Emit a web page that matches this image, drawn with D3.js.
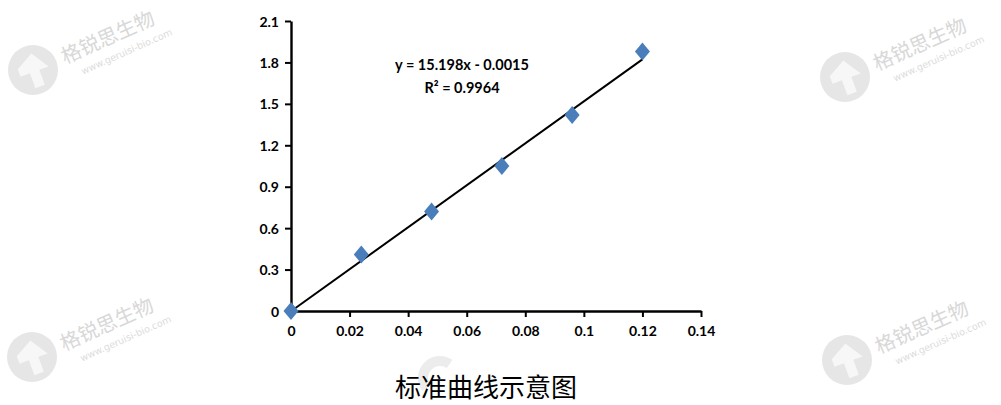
<!DOCTYPE html>
<html>
<head>
<meta charset="utf-8">
<script src="https://cdn.jsdelivr.net/npm/d3@7"></script>
<style>
  html, body { margin: 0; padding: 0; background: #fff; }
  svg { display: block; }
</style>
</head>
<body>
<svg id="chart" width="1001" height="405"></svg>
<script>
// data
const concentrations = [0, 0.024, 0.048, 0.072, 0.096, 0.12];
const absorbances    = [0, 0.41, 0.72, 1.05, 1.42, 1.88];
const slope = 15.198;
const intercept = -0.0015;
const xTicks = [0, 0.02, 0.04, 0.06, 0.08, 0.1, 0.12, 0.14];
const yTicks = [0, 0.3, 0.6, 0.9, 1.2, 1.5, 1.8, 2.1];
const equationLines = ["y = 15.198x - 0.0015", "R² = 0.9964"];
const title = "标准曲线示意图";
const watermarkText = "格锐思生物";
const watermarkUrl = "www.geruisi-bio.com";
const watermarkSpots = [[33, 70], [845, 77], [32, 357], [847, 360]];

const svg = d3.select("#chart");
const tickFont = "Lato, 'Open Sans', sans-serif";

// ===== WATERMARKS =====
const wm = svg.append("g").attr("class", "watermarks");
for (const [cx, cy] of watermarkSpots) {
  const g = wm.append("g").attr("transform", `translate(${cx},${cy})`);
  g.append("circle").attr("r", 25).attr("fill", "#e6e6e6");
  g.append("path")
    .attr("d", "M-14,-6 L4,-16 L16,2 L6,2 L6,18 L-4,18 L-4,2 L-14,2 Z")
    .attr("fill", "#f7f7f7")
    .attr("transform", "rotate(-20)");
  const t = g.append("g").attr("transform", "translate(32,-6) rotate(-24)");
  t.append("text")
    .attr("x", 0).attr("y", 0)
    .attr("font-family", "'Noto Sans CJK SC', sans-serif")
    .attr("font-size", 20)
    .attr("fill", "#d8d8d8")
    .text(watermarkText);
  t.append("text")
    .attr("x", 12).attr("y", 17)
    .attr("font-family", "'DejaVu Sans', sans-serif")
    .attr("font-size", 9.5)
    .attr("fill", "#dcdcdc")
    .text(watermarkUrl);
}
// faint logo fragment behind the title
svg.append("path")
  .attr("d", d3.arc()({ innerRadius: 12, outerRadius: 22, startAngle: -2.2, endAngle: 0.6 }))
  .attr("transform", "translate(440,378)")
  .attr("fill", "#ececec");

// ===== SCALES =====
const x = d3.scaleLinear().domain([0, 0.14]).range([291, 701]);
const y = d3.scaleLinear().domain([0, 2.1]).range([311, 21]);

// ===== AXES =====
const gx = svg.append("g")
  .attr("transform", `translate(0,${y(0)})`)
  .call(d3.axisBottom(x).tickValues(xTicks).tickSize(6).tickSizeOuter(0).tickPadding(9)
    .tickFormat(d => String(d)));

const gy = svg.append("g")
  .attr("transform", `translate(${x(0)},0)`)
  .call(d3.axisLeft(y).tickValues(yTicks).tickSize(6).tickSizeOuter(0).tickPadding(6)
    .tickFormat(d => String(d)));

for (const g of [gx, gy]) {
  g.select(".domain").attr("stroke", "#000").attr("stroke-width", 2.4);
  g.selectAll(".tick line").attr("stroke", "#000").attr("stroke-width", 2);
  g.selectAll(".tick text")
    .attr("fill", "#000")
    .attr("font-family", tickFont)
    .attr("font-weight", "bold")
    .attr("font-size", 14);
}
gy.selectAll(".tick text").attr("dy", "0.36em");

// ===== TRENDLINE =====
const xEnd = d3.max(concentrations);
svg.append("line")
  .attr("x1", x(0)).attr("y1", y(slope * 0 + intercept))
  .attr("x2", x(xEnd)).attr("y2", y(slope * xEnd + intercept))
  .attr("stroke", "#000")
  .attr("stroke-width", 2);

// ===== POINTS =====
function diamond(w, h) {
  const p = d3.path();
  p.moveTo(0, -h / 2);
  p.lineTo(w / 2, 0);
  p.lineTo(0, h / 2);
  p.lineTo(-w / 2, 0);
  p.closePath();
  return p.toString();
}
svg.append("g")
  .selectAll("path")
  .data(concentrations.map((c, i) => ({ c, a: absorbances[i] })))
  .enter()
  .append("path")
  .attr("d", diamond(15, 18))
  .attr("transform", d => `translate(${x(d.c)},${y(d.a)})`)
  .attr("fill", "#4a7ebb");

// ===== EQUATION =====
svg.append("text")
  .attr("x", 462).attr("y", 70)
  .attr("text-anchor", "middle")
  .attr("font-family", tickFont)
  .attr("font-weight", "bold")
  .attr("font-size", 14.5)
  .attr("fill", "#000")
  .text(equationLines[0]);
svg.append("text")
  .attr("x", 462).attr("y", 93)
  .attr("text-anchor", "middle")
  .attr("font-family", tickFont)
  .attr("font-weight", "bold")
  .attr("font-size", 14.5)
  .attr("fill", "#000")
  .text(equationLines[1]);

// ===== TITLE =====
svg.append("text")
  .attr("x", 486).attr("y", 397)
  .attr("text-anchor", "middle")
  .attr("font-family", "'Noto Sans CJK SC', sans-serif")
  .attr("font-size", 26)
  .attr("fill", "#000")
  .text(title);
</script>
</body>
</html>
